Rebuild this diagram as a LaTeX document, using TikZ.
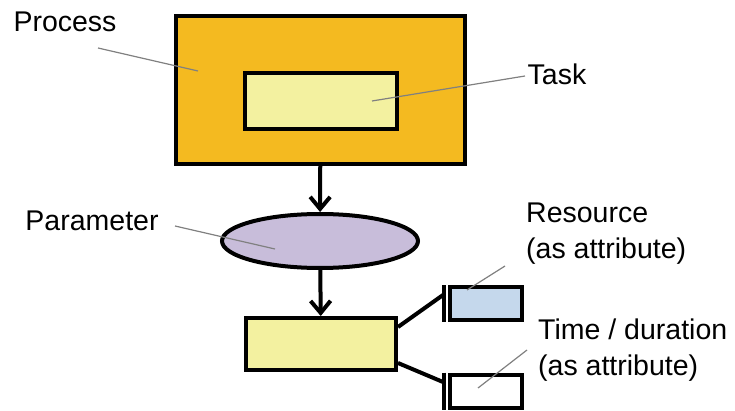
\documentclass[tikz,border=0pt]{standalone}
\usepackage{fontspec}
\setmainfont{Liberation Sans}
\usepackage{tikz}
\usetikzlibrary{arrows.meta,shapes.geometric}
\definecolor{procorange}{RGB}{244,186,32}
\definecolor{taskyellow}{RGB}{243,241,160}
\definecolor{paramlilac}{RGB}{200,189,218}
\definecolor{resblue}{RGB}{197,216,236}
\definecolor{leadgray}{RGB}{128,128,128}
\tikzset{
  box/.style={draw,line width=4pt,inner sep=0pt},
  lbl/.style={font=\fontsize{28.5}{36}\selectfont,inner sep=0pt,align=left},
  leader/.style={leadgray,line width=1.2pt},
  link/.style={line width=4pt}
}
\begin{document}
\begin{tikzpicture}[x=1pt,y=-1pt,>={Straight Barb[length=12pt,width=20pt]}]
\clip(0,0)rectangle(735,411);
% shapes
\node[box,fill=procorange,minimum width=289pt,minimum height=148pt](process)at(320.5,90){};
\node[box,fill=taskyellow,minimum width=152pt,minimum height=56pt](task)at(321,101){};
\node[box,ellipse,fill=paramlilac,minimum width=196pt,minimum height=54pt](param)at(320,241){};
\node[box,fill=taskyellow,minimum width=150pt,minimum height=52pt](item)at(321,344){};
\node[box,fill=resblue,minimum width=72pt,minimum height=33pt](res)at(486,303.5){};
\node[box,fill=white,minimum width=72pt,minimum height=33pt](time)at(486,391){};
% arrows
\draw[link,->](process)--(param);
\draw[link,->](param)--(item);
% attribute links
\draw[link]([xshift=-4pt]res.north west)--([xshift=-4pt]res.south west);
\draw[link]([xshift=-4pt]time.north west)--([xshift=-4pt]time.south west);
\coordinate(resend)at(443,295);
\coordinate(timeend)at(443,382);
\draw[link]([yshift=17pt]item.east)--(resend);
\draw[link]([yshift=-19pt]item.east)--(timeend);
% labels
\node[lbl](lprocess)at(65,22){Process};
\node[lbl](ltask)at(557,74){Task};
\node[lbl](lparam)at(92,221){Parameter};
\node[lbl,anchor=west](lres)at(526,234){Resource\\(as attribute)};
\node[lbl,anchor=west](ltime)at(538,350){Time / duration\\(as attribute)};
% leaders
\coordinate(a1)at(98,48);\coordinate(b1)at(198,71);
\coordinate(a2)at(525,76);\coordinate(b2)at(372,101);
\coordinate(a3)at(175,226);\coordinate(b3)at(275,249);
\coordinate(a4)at(505,266);\coordinate(b4)at(467,290);
\coordinate(a5)at(527,350);\coordinate(b5)at(478,388);
\draw[leader](a1)--(b1);
\draw[leader](a2)--(b2);
\draw[leader](a3)--(b3);
\draw[leader](a4)--(b4);
\draw[leader](a5)--(b5);
\end{tikzpicture}
\end{document}
